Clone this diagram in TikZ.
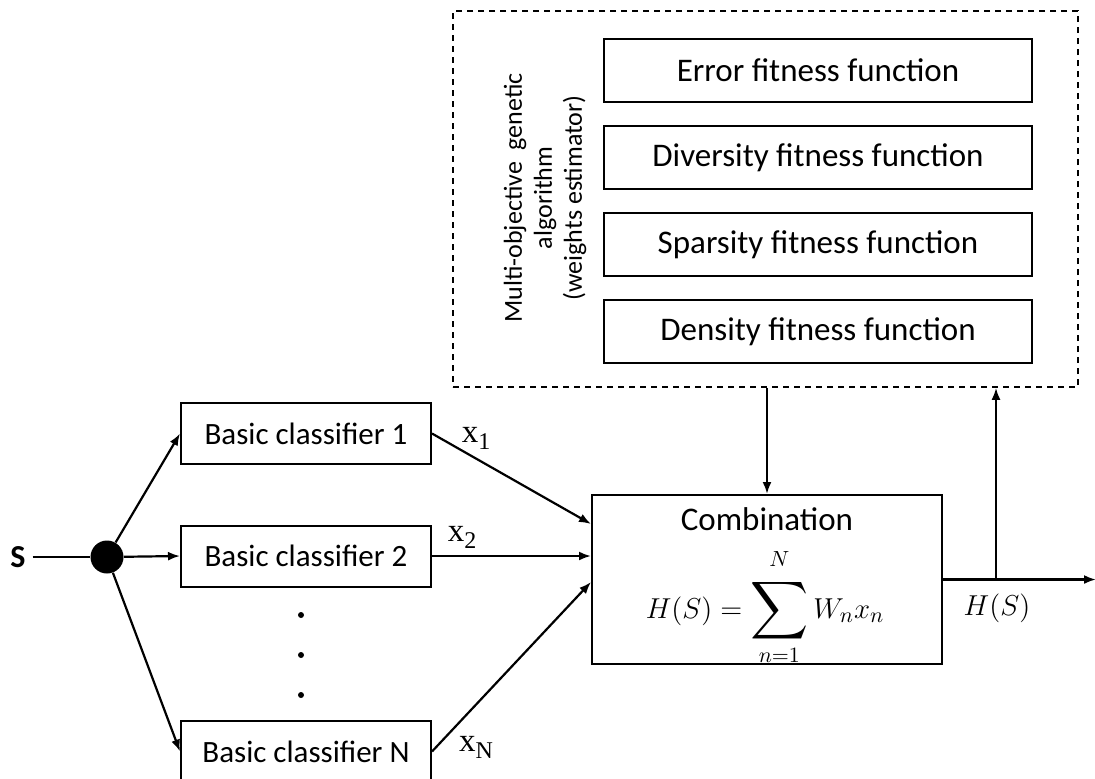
\documentclass[tikz,border=0pt]{standalone}
\usepackage{amsmath}
\usepackage[no-math]{fontspec}
\setmainfont{Carlito}
\newfontfamily\labelfont{Liberation Serif}
\usepackage{tikz}
\usetikzlibrary{arrows.meta}
\usetikzlibrary{positioning}

\tikzset{
    box/.style={draw, rectangle, line width=1pt, inner sep=0pt},
    clsbox/.style={box, minimum width=125pt, minimum height=30.5pt, font=\fontsize{15.5}{18}\selectfont},
    fitbox/.style={box, minimum width=214pt, minimum height=31.5pt, font=\fontsize{16.5}{19}\selectfont},
    flow/.style={line width=1.1pt, -{Latex[length=6pt,width=4.5pt]}},
}
\newcommand{\xsub}[1]{{\labelfont\fontsize{16.5}{18}\selectfont x\raisebox{-3.5pt}{\fontsize{12}{12}\selectfont #1}}}
\newcommand{\bigsum}{\mathop{\vcenter{\hbox{\scalebox{1.4}{$\displaystyle\sum$}}}}\limits}

\begin{document}
\begin{tikzpicture}[x=0.5pt,y=-0.5pt]
                \useasboundingbox (0,0) rectangle (1095,778);
                \clip (0,0) rectangle (1095,778);

                % weights estimator
                \node[draw, line width=0.8pt, dash pattern=on 3pt off 2.5pt,
                    minimum width=312.5pt, minimum height=188pt] (moga) at (765.5,199) {};
                \node[fitbox] (err) at (818,70.5) {Error fitness function};
                \node[fitbox, below=11pt of err] (div) {Diversity fitness function};
                \node[fitbox, below=11pt of div] (spa) {Sparsity fitness function};
                \node[fitbox, below=11pt of spa] (den) {Density fitness function};
                \node[rotate=90, align=center, font=\fontsize{13}{15}\selectfont] (mogalabel) at (545,198)
                    {Multi-objective\ \ genetic\\algorithm\\(weights estimator)};

                % classifiers
                \node[font=\fontsize{16}{18}\selectfont\bfseries] (src) at (18,557) {S};
                \node[circle, fill, inner sep=0pt, minimum size=16.5pt] (split) at (107,557) {};
                \node[clsbox] (c1) at (306,433.5) {Basic classifier 1};
                \node[clsbox] (c2) at (306,556) {Basic classifier 2};
                \node[clsbox] (cN) at (306,751.5) {Basic classifier N};
                \foreach \y in {615,655,695}
                    \fill (301,\y) circle (1.5pt);

                % combination
                \node[box, minimum width=175pt, minimum height=84.5pt] (comb) at (767,579.5) {};
                \node[font=\fontsize{16.5}{19}\selectfont, inner sep=0pt] (combtitle) at (767,519) {Combination};
                \node[font=\fontsize{15}{18}\selectfont, inner sep=0pt] (combeq) at (765,607)
                    {$\displaystyle H(S)=\bigsum_{n=1}^{\raisebox{3pt}{$\scriptstyle N$}} W_n x_n$};
                \coordinate (tap) at (996,579.5);
                \coordinate (out) at (1096,579.5);
                \node[font=\fontsize{15}{18}\selectfont] (hs) at (997,608) {$H(S)$};

                \node (x1) at (476,438) {\xsub{1}};
                \node (x2) at (462,537) {\xsub{2}};
                \node (xN) at (476,747) {\xsub{N}};

                \draw[line width=1.1pt] (src) -- (split);
                \draw[flow] (split) -- (c1.west);
                \draw[flow] (split) -- (c2.west);
                \draw[flow] (split) -- (cN.west);
                \draw[flow] (c1.east) -- ([yshift=27.75pt]comb.west);
                \draw[flow] (c2.east) -- (c2.east -| comb.west);
                \draw[flow] (cN.east) -- ([yshift=-1.25pt]comb.west);
                \draw[flow] (moga.south -| comb.north) -- (comb.north);
                \draw[flow] (comb.east) -- (out);
                \draw[flow] (tap) -- (tap |- moga.south);
            \end{tikzpicture}
\end{document}
